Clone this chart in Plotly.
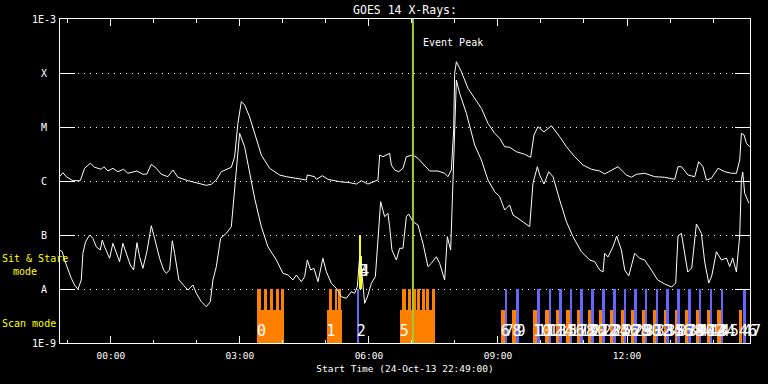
import plotly.graph_objects as go

# ---------------- data ----------------
# time: hours after 2013-10-25 00:00 UT ; flux: log10(W/m^2)
long_t = [-1.193, -1.116, -1.037, -0.884, -0.712, -0.612, -0.479, -0.379, -0.223, -0.163, -0.070, 0.047,
          0.163, 0.295, 0.395, 0.605, 0.744, 0.837, 0.940, 1.056, 1.172, 1.326, 1.442, 1.558, 1.791, 2.023,
          2.219, 2.335, 2.451, 2.567, 2.684, 2.800, 2.877, 2.953, 3.033, 3.109, 3.226, 3.342, 3.498, 3.691,
          3.923, 4.079, 4.388, 4.544, 4.567, 4.737, 4.777, 4.916, 5.047, 5.319, 5.551, 5.707, 5.823, 5.977,
          6.209, 6.249, 6.326, 6.405, 6.481, 6.521, 6.598, 6.691, 6.791, 6.870, 7.023, 7.140, 7.295, 7.412,
          7.605, 7.760, 7.837, 7.916, 7.970, 7.993, 8.033, 8.149, 8.302, 8.458, 8.614, 8.767, 8.923, 9.040,
          9.156, 9.272, 9.428, 9.621, 9.760, 9.837, 9.930, 10.070, 10.242, 10.435, 10.591, 10.784, 10.977,
          11.172, 11.365, 11.481, 11.598, 11.791, 11.986, 12.102, 12.219, 12.412, 12.644, 12.877, 13.109,
          13.186, 13.265, 13.419, 13.574, 13.667, 13.767, 13.847, 13.963, 14.116, 14.272, 14.428, 14.544,
          14.621, 14.660, 14.721, 14.777, 14.853]
long_f = [-5.920, -5.846, -5.920, -5.994, -5.994, -5.765, -5.672, -5.746, -5.783, -5.735, -5.815, -5.765,
          -5.828, -5.783, -5.857, -5.815, -5.876, -5.870, -5.691, -5.765, -5.876, -5.920, -5.796, -5.931,
          -5.994, -6.043, -6.080, -6.061, -5.981, -5.828, -5.783, -5.746, -5.550, -4.931, -4.531, -4.593,
          -4.815, -5.130, -5.519, -5.765, -5.889, -5.920, -5.963, -5.981, -5.889, -5.920, -5.969, -5.902,
          -5.969, -6.013, -6.031, -6.056, -5.994, -6.056, -5.981, -5.519, -5.550, -5.519, -5.487, -5.704,
          -5.796, -5.828, -5.765, -5.550, -5.519, -5.580, -5.722, -5.815, -5.815, -5.857, -5.920, -5.796,
          -5.056, -4.006, -3.791, -3.976, -4.283, -4.469, -4.654, -4.931, -5.117, -5.209, -5.365, -5.376,
          -5.457, -5.506, -5.561, -5.148, -4.994, -5.093, -4.976, -5.180, -5.365, -5.550, -5.704, -5.783,
          -5.815, -5.870, -5.815, -5.735, -5.889, -5.931, -5.876, -5.857, -5.920, -5.931, -5.969, -5.735,
          -5.735, -5.889, -5.920, -5.643, -5.735, -5.981, -5.950, -5.765, -5.828, -5.857, -5.857, -5.611,
          -5.117, -5.148, -5.302, -5.365]

short_t = [-1.193, -1.130, -1.077, -1.000, -0.921, -0.844, -0.767, -0.688, -0.651, -0.588, -0.495, -0.419,
           -0.340, -0.247, -0.200, -0.147, -0.030, 0.047, 0.126, 0.202, 0.279, 0.358, 0.451, 0.528, 0.605,
           0.667, 0.744, 0.837, 0.940, 1.016, 1.133, 1.226, 1.288, 1.365, 1.428, 1.481, 1.581, 1.791, 1.907,
           1.986, 2.102, 2.219, 2.312, 2.372, 2.451, 2.551, 2.684, 2.800, 2.837, 2.900, 2.993, 3.109, 3.265,
           3.342, 3.498, 3.651, 3.847, 4.000, 4.116, 4.233, 4.312, 4.428, 4.505, 4.567, 4.644, 4.721, 4.814,
           4.930, 5.009, 5.126, 5.242, 5.358, 5.474, 5.591, 5.667, 5.730, 5.784, 5.830, 5.900, 5.970, 6.056,
           6.149, 6.209, 6.272, 6.365, 6.442, 6.481, 6.535, 6.637, 6.714, 6.791, 6.870, 6.923, 7.023, 7.140,
           7.256, 7.372, 7.451, 7.567, 7.644, 7.760, 7.823, 7.900, 7.953, 7.993, 8.033, 8.109, 8.265, 8.458,
           8.614, 8.767, 8.923, 9.040, 9.156, 9.272, 9.349, 9.465, 9.581, 9.737, 9.814, 9.916, 9.970, 10.070,
           10.179, 10.279, 10.435, 10.591, 10.744, 10.940, 11.133, 11.249, 11.365, 11.442, 11.481, 11.558,
           11.674, 11.760, 11.870, 11.947, 12.040, 12.179, 12.295, 12.412, 12.567, 12.714, 12.877, 13.040,
           13.133, 13.186, 13.265, 13.342, 13.412, 13.505, 13.614, 13.730, 13.807, 13.900, 13.970, 14.079,
           14.195, 14.312, 14.388, 14.458, 14.544, 14.621, 14.660, 14.691, 14.737, 14.837]
short_f = [-7.278, -7.309, -7.463, -7.648, -7.802, -7.926, -8.006, -7.833, -7.339, -7.124, -7.000, -7.061,
           -7.217, -7.278, -7.093, -7.217, -7.431, -7.154, -7.309, -7.494, -7.154, -7.339, -7.556, -7.648,
           -7.143, -7.402, -7.617, -7.309, -6.828, -7.061, -7.431, -7.648, -7.709, -7.648, -7.106, -7.339,
           -7.833, -8.019, -7.926, -8.080, -8.235, -8.328, -8.235, -7.833, -7.587, -7.061, -6.969, -6.846,
           -6.537, -5.981, -5.117, -5.365, -5.981, -6.320, -6.846, -7.217, -7.463, -7.709, -7.741, -7.833,
           -7.741, -7.865, -7.772, -7.463, -7.648, -7.617, -7.865, -7.431, -7.680, -7.894, -7.987, -8.143,
           -8.172, -8.050, -8.080, -7.957, -7.402, -7.648, -8.265, -8.130, -7.894, -7.772, -7.093, -6.383,
           -6.661, -6.598, -6.846, -7.278, -7.463, -7.246, -7.246, -6.661, -6.611, -6.754, -6.815, -7.154,
           -7.587, -7.524, -7.402, -7.524, -7.833, -7.031, -7.278, -5.981, -5.117, -4.130, -4.376, -4.746,
           -5.333, -5.611, -5.981, -6.198, -6.291, -6.537, -6.444, -6.630, -6.691, -6.754, -6.846, -6.043,
           -5.735, -5.889, -6.056, -5.828, -5.920, -6.352, -6.754, -7.031, -7.309, -7.463, -7.494, -7.648,
           -7.685, -7.339, -7.407, -7.217, -7.019, -7.278, -7.648, -7.759, -7.339, -7.431, -7.463, -7.648,
           -7.833, -7.907, -7.963, -7.889, -7.019, -6.969, -7.339, -7.685, -7.611, -6.796, -6.969, -7.500,
           -7.889, -7.759, -7.309, -7.463, -7.426, -7.587, -7.426, -7.685, -7.000, -5.981, -5.833, -6.228,
           -6.413]

# observations (hours after 2013-10-25 00:00 UT)
obs_start = [3.395, 5.016, 5.714, 5.772, 5.795, 6.714, 9.063, 9.156, 9.335, 9.428, 9.814, 9.916, 10.086,
             10.186, 10.342, 10.419, 10.591, 10.667, 10.837, 10.916, 11.093, 11.172, 11.349, 11.428,
             11.614, 11.674, 11.853, 11.923, 12.102, 12.163, 12.358, 12.412, 12.605, 12.667, 12.860,
             12.916, 13.109, 13.172, 13.358, 13.419, 13.614, 13.674, 13.860, 13.923, 14.102, 14.179,
             14.605, 14.698]
obs_end = [4.023, 5.381, 5.777, 5.814, 5.830, 7.528, 9.156, 9.209, 9.428, 9.488, 9.907, 9.970, 10.179,
           10.242, 10.435, 10.498, 10.667, 10.730, 10.916, 10.977, 11.172, 11.226, 11.428, 11.481, 11.691,
           11.737, 11.930, 11.986, 12.179, 12.242, 12.435, 12.474, 12.684, 12.721, 12.940, 12.977, 13.186,
           13.226, 13.435, 13.481, 13.691, 13.730, 13.940, 13.986, 14.179, 14.233, 14.684, 14.760]
obs_kind = ["scan", "scan", "line", "stare", "stare", "scan"] + ["scan", "line"] * 21
obs_height = [0.61, 0.61, 1.0, 1.0, 0.61, 0.61] + [0.61, 1.0] * 21

raster_start = [3.395, 3.551, 3.691, 3.830, 3.953, 5.081, 5.202, 5.284,
                6.777, 6.900, 7.016, 7.109, 7.226, 7.342, 7.458]
raster_end = [3.493, 3.621, 3.760, 3.900, 4.023, 5.144, 5.260, 5.342,
              6.853, 6.970, 7.086, 7.191, 7.307, 7.388, 7.528]

event_peak = 7.023
x_range = [-1.1833, 14.86]
hour_tick_vals = [0, 3, 6, 9, 12]
hour_tick_text = ["00:00", "03:00", "06:00", "09:00", "12:00"]
minor_hours = list(range(-1, 15))
level_vals = [-9, -8, -7, -6, -5, -4, -3]
level_text = ["1E-9", "A", "B", "C", "M", "X", "1E-3"]

# ---------------- figure ----------------
FONT = "DejaVu Sans Mono"
ORANGE = "#FF8000"
BLUE = "#6666FF"
YELLOW = "#FFFF00"
GREEN = "#9ACD32"

fig = go.Figure()

colors = {"scan": ORANGE, "line": BLUE, "stare": YELLOW}
bases = {"scan": -9, "line": -9, "stare": -8}
for kind in ["scan", "line", "stare"]:
    idx = [i for i, k in enumerate(obs_kind) if k == kind]
    fig.add_trace(go.Bar(
        x=[(obs_start[i] + obs_end[i]) / 2 for i in idx],
        width=[obs_end[i] - obs_start[i] for i in idx],
        y=[obs_height[i] for i in idx],
        base=bases[kind],
        marker=dict(color=colors[kind], line=dict(width=0)),
        hoverinfo="skip"))

fig.add_trace(go.Bar(
    x=[(s + e) / 2 for s, e in zip(raster_start, raster_end)],
    width=[e - s for s, e in zip(raster_start, raster_end)],
    y=[1.0] * len(raster_start), base=-9,
    marker=dict(color=ORANGE, line=dict(width=0)), hoverinfo="skip"))

fig.add_trace(go.Scatter(x=long_t, y=long_f, mode="lines",
                         line=dict(color="white", width=1)))
fig.add_trace(go.Scatter(x=short_t, y=short_f, mode="lines",
                         line=dict(color="white", width=1)))

fig.add_trace(go.Scatter(x=[event_peak, event_peak], y=[-9, -3], mode="lines",
                         line=dict(color=GREEN, width=2)))

# observation numbers
lab_y = [-7.685 if k == "stare" else -8.81 for k in obs_kind]
fig.add_trace(go.Scatter(x=obs_start, y=lab_y, mode="text",
                         text=[str(i) for i in range(len(obs_start))],
                         textposition="middle right",
                         textfont=dict(family=FONT, size=15, color="white"),
                         cliponaxis=False))

annotations = []
for v, t in zip(level_vals, level_text):
    annotations.append(dict(x=0, xref="paper", y=v, yref="y", text=t, showarrow=False,
                            xanchor="center", yanchor="middle", xshift=-16,
                            font=dict(family=FONT, size=10, color="white")))
annotations.append(dict(x=event_peak, y=-3.444, xref="x", yref="y", text="Event Peak",
                        showarrow=False, xanchor="left", yanchor="middle", xshift=8,
                        font=dict(family=FONT, size=10, color="white")))
annotations.append(dict(x=0, xref="paper", y=-7.426, yref="y", text="Sit & Stare",
                        showarrow=False, xanchor="left", yanchor="middle", xshift=-60,
                        font=dict(family=FONT, size=10, color=YELLOW)))
annotations.append(dict(x=0, xref="paper", y=-7.667, yref="y", text="mode",
                        showarrow=False, xanchor="left", yanchor="middle", xshift=-49,
                        font=dict(family=FONT, size=10, color=YELLOW)))
annotations.append(dict(x=0, xref="paper", y=-8.648, yref="y", text="Scan mode",
                        showarrow=False, xanchor="left", yanchor="middle", xshift=-60,
                        font=dict(family=FONT, size=10, color=YELLOW)))

fig.update_layout(
    width=768, height=384,
    paper_bgcolor="black", plot_bgcolor="black",
    margin=dict(l=60, r=18, t=19, b=41),
    showlegend=False, barmode="overlay", bargap=0,
    font=dict(family=FONT, color="white", size=10),
    title=dict(text="GOES 14 X-Rays:", x=0.5, xref="paper", y=1 - 9.5 / 384,
               yref="container", xanchor="center", yanchor="middle",
               font=dict(family=FONT, size=11.5, color="white")),
    annotations=annotations,
    xaxis=dict(range=x_range, showline=True, linecolor="white", linewidth=1, mirror="ticks",
               ticks="inside", ticklen=7, tickcolor="white", tickwidth=1,
               tickmode="array", tickvals=hour_tick_vals, ticktext=hour_tick_text,
               minor=dict(tickmode="array", tickvals=minor_hours, ticks="inside", ticklen=3.5,
                          tickcolor="white", tickwidth=1, showgrid=False),
               showgrid=False, zeroline=False, ticklabelstandoff=4,
               tickfont=dict(family=FONT, size=9.5, color="white"),
               title=dict(text="Start Time (24-Oct-13 22:49:00)", standoff=4,
                          font=dict(family=FONT, size=9.5, color="white"))),
    yaxis=dict(range=[-9, -3], showline=True, linecolor="white", linewidth=1, mirror="ticks",
               ticks="inside", ticklen=15, tickcolor="white", tickwidth=1,
               tickmode="array", tickvals=level_vals, showticklabels=False,
               showgrid=True, gridcolor="white", gridwidth=1, griddash="1px,5px",
               zeroline=False),
)

fig.write_html("out.html", config={"displayModeBar": False},
               post_script="document.body.style.margin='0';document.body.style.background='black';")
